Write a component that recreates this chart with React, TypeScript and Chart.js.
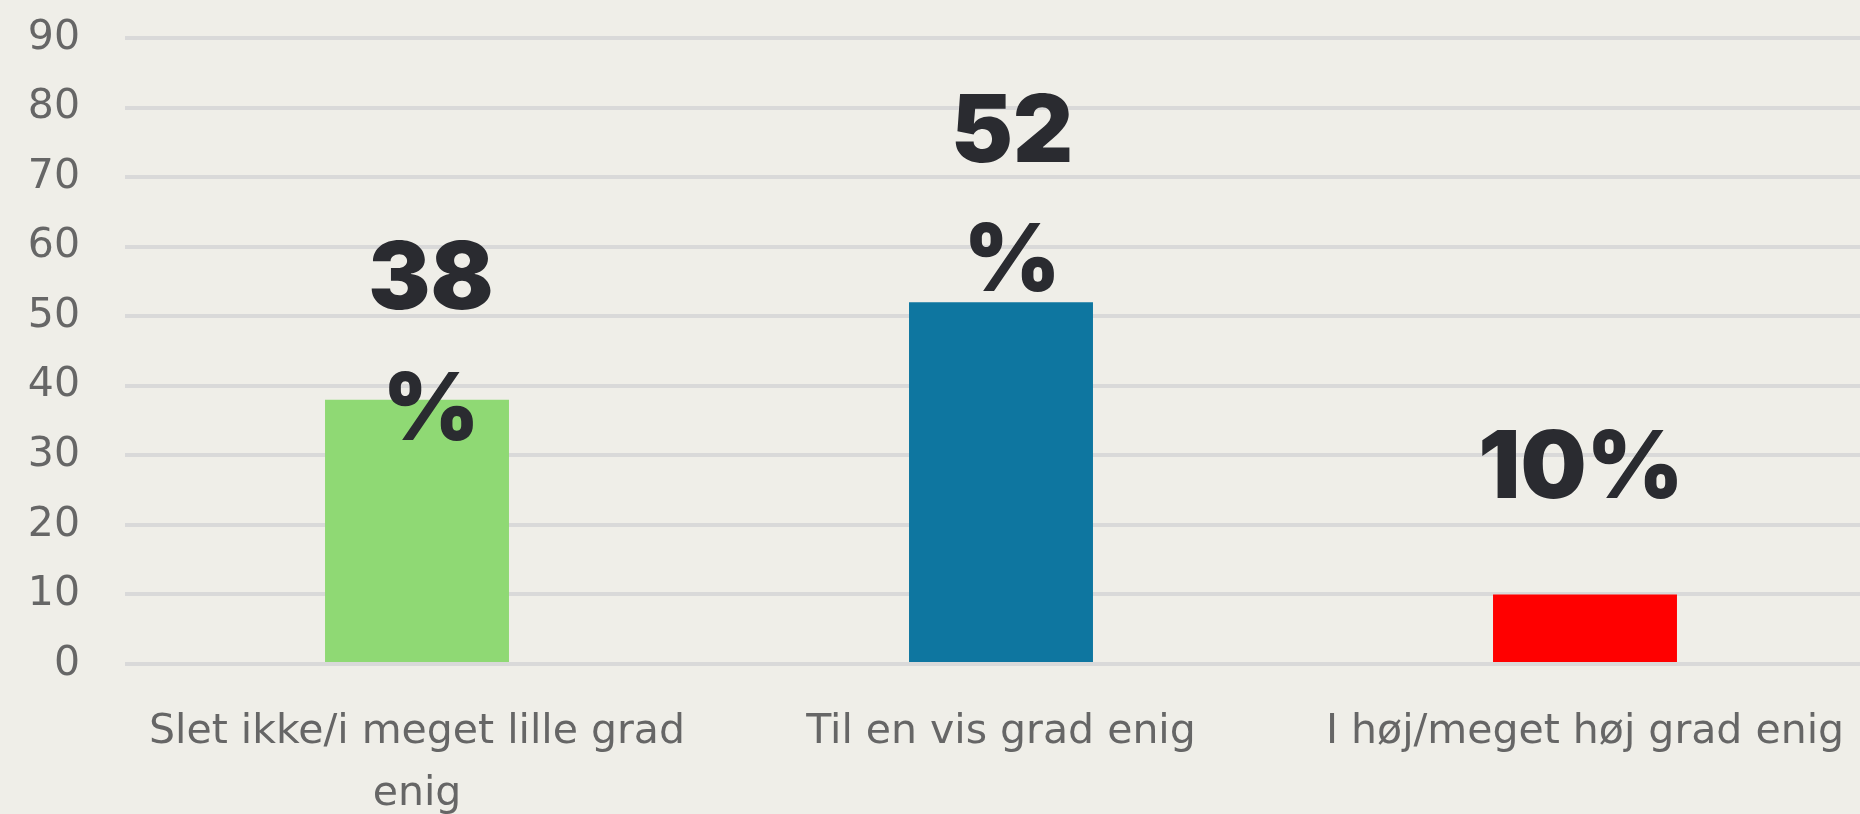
import React, { useEffect, useRef } from "react";
import { Chart, registerables } from "chart.js";

Chart.register(...registerables);

const categories: (string | string[])[] = [
  ["Slet ikke/i meget lille grad", "enig"],
  "Til en vis grad enig",
  "I høj/meget høj grad enig",
];
const values = [38, 52, 10];
const barColors = ["#8FD974", "#0E76A0", "#FF0000"];
const labelLines = [["38", "%"], ["52", "%"], ["10%"]];
// pixel offsets of data labels: [dx, dy of first baseline from bar top, line spacing]
const labelOffsets = [
  [14, -91, 131],
  [11, -140, 129],
  [-4, -96, 0],
];
const yTicks = { min: 0, max: 90, step: 10 };

const dataLabelPlugin = {
  id: "dataLabels",
  afterDatasetsDraw(chart: any) {
    const ctx = chart.ctx;
    const meta = chart.getDatasetMeta(0);
    ctx.save();
    ctx.fillStyle = "#2A2B30";
    ctx.font = "900 93px Inter, Roboto, 'Liberation Sans', sans-serif";
    ctx.textAlign = "center";
    ctx.textBaseline = "alphabetic";
    meta.data.forEach((bar: any, i: number) => {
      const [dx, dy, lh] = labelOffsets[i];
      labelLines[i].forEach((line, j) => {
        ctx.fillText(line, bar.x + dx, bar.y + dy + j * lh);
      });
    });
    ctx.restore();
  },
};

export default function App() {
  const ref = useRef<HTMLCanvasElement | null>(null);
  useEffect(() => {
    if (!ref.current) return;
    const chart = new Chart(ref.current, {
      type: "bar",
      data: {
        labels: categories,
        datasets: [
          {
            data: values,
            backgroundColor: barColors,
            borderWidth: 0,
            categoryPercentage: 1,
            barPercentage: 0.315,
          },
        ],
      },
      options: {
        responsive: false,
        animation: false,
        devicePixelRatio: 1,
        layout: { padding: { top: 38, right: 3, left: 0, bottom: 0 } },
        plugins: { legend: { display: false }, tooltip: { enabled: false } },
        scales: {
          x: {
            grid: { display: false, drawTicks: false },
            border: { display: false },
            ticks: {
              color: "#666666",
              padding: 38,
              maxRotation: 0,
              autoSkip: false,
              font: { family: "'DejaVu Sans', sans-serif", size: 41, lineHeight: 1.5 },
            },
            afterFit: (s: any) => {
              s.height = 150;
              s.paddingLeft = 0;
              s.paddingRight = 0;
            },
          },
          y: {
            min: yTicks.min,
            max: yTicks.max,
            grid: { color: "#D9D9D9", lineWidth: 4, drawTicks: false },
            border: { display: false },
            ticks: {
              stepSize: yTicks.step,
              color: "#666666",
              padding: 45,
              font: { family: "'DejaVu Sans', sans-serif", size: 41 },
            },
            afterFit: (s: any) => {
              s.width = 125;
              s.paddingTop = 0;
              s.paddingBottom = 0;
            },
          },
        },
      },
      plugins: [dataLabelPlugin],
    });
    return () => chart.destroy();
  }, []);
  return (
    <div
      style={{
        position: "fixed",
        left: 0,
        top: 0,
        width: 1860,
        height: 814,
        overflow: "hidden",
        background: "#EFEEE8",
      }}
    >
      <canvas ref={ref} width={1880} height={814} style={{ display: "block" }} />
    </div>
  );
}
